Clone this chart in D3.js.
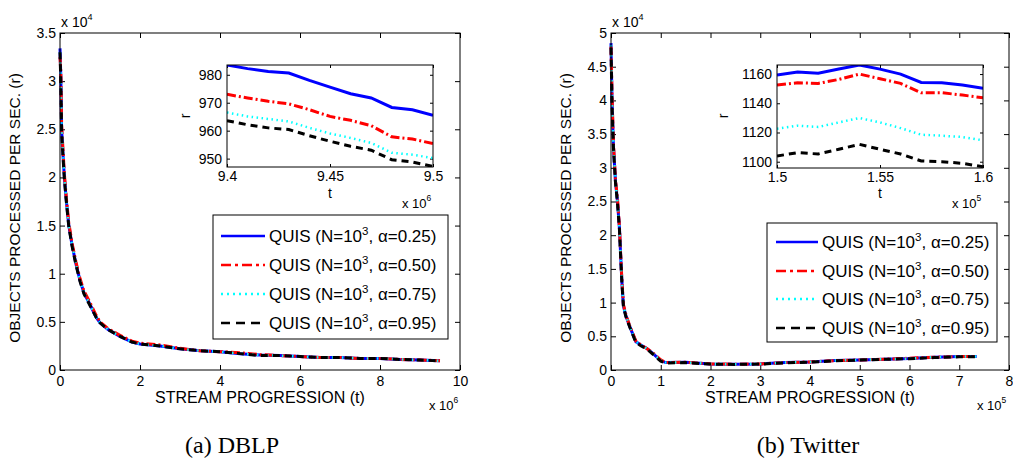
<!DOCTYPE html>
<html>
<head>
<meta charset="utf-8">
<script src="https://cdn.jsdelivr.net/npm/d3@7"></script>
<style>
  body { margin: 0; background: #fff; }
  text { font-family: "Liberation Sans", Arial, sans-serif; fill: #000; }
</style>
</head>
<body>
<script>
// ---- data ----
var seriesNames = ["0.25", "0.50", "0.75", "0.95"];

// DBLP, t in 1e6, r in 1e4
var dblpT     = [0, 0.02, 0.04, 0.08, 0.11, 0.16, 0.22, 0.3, 0.4, 0.5, 0.6, 0.75, 0.9, 1.0, 1.2, 1.5, 1.8, 2.0, 2.5, 3.0, 3.5, 4.0, 4.5, 5.0, 5.5, 6.0, 6.5, 7.0, 7.5, 8.0, 8.5, 9.0, 9.5];
var dblpBlue  = [3.34, 3.05, 2.5, 2.2, 2.0, 1.75, 1.5, 1.3, 1.1, 0.93, 0.8, 0.68, 0.55, 0.49, 0.42, 0.35, 0.29, 0.27, 0.25, 0.22, 0.2, 0.19, 0.17, 0.155, 0.15, 0.14, 0.13, 0.13, 0.12, 0.12, 0.11, 0.105, 0.0965];
var dblpRed   = [3.25, 3.1, 2.55, 2.25, 2.03, 1.78, 1.53, 1.32, 1.12, 0.95, 0.82, 0.7, 0.57, 0.5, 0.43, 0.36, 0.3, 0.28, 0.26, 0.225, 0.2, 0.19, 0.18, 0.16, 0.15, 0.14, 0.13, 0.13, 0.12, 0.12, 0.11, 0.105, 0.0955];
var dblpCyan  = [3.3, 3.02, 2.52, 2.21, 2.0, 1.75, 1.5, 1.3, 1.1, 0.93, 0.8, 0.68, 0.55, 0.49, 0.42, 0.35, 0.29, 0.27, 0.25, 0.22, 0.2, 0.19, 0.17, 0.155, 0.15, 0.14, 0.13, 0.13, 0.12, 0.12, 0.11, 0.104, 0.095];
var dblpBlack = [3.3, 3.0, 2.48, 2.18, 1.98, 1.74, 1.49, 1.29, 1.09, 0.92, 0.79, 0.67, 0.55, 0.49, 0.42, 0.35, 0.29, 0.27, 0.25, 0.22, 0.2, 0.19, 0.17, 0.15, 0.15, 0.14, 0.13, 0.13, 0.12, 0.12, 0.11, 0.104, 0.0947];

// DBLP inset, t in 1e6, r raw
var dblpInsetT     = [9.40, 9.41, 9.42, 9.43, 9.44, 9.45, 9.46, 9.47, 9.48, 9.49, 9.50];
var dblpInsetBlue  = [983.5, 982.2, 981.2, 980.6, 978.0, 975.6, 973.2, 971.7, 968.3, 967.5, 965.5];
var dblpInsetRed   = [973.0, 971.7, 970.5, 969.6, 967.5, 965.1, 963.7, 961.8, 957.8, 957.0, 955.4];
var dblpInsetCyan  = [966.5, 965.1, 964.2, 963.3, 961.0, 959.0, 957.4, 955.6, 952.1, 951.4, 950.2];
var dblpInsetBlack = [963.6, 962.1, 961.0, 960.4, 958.2, 956.2, 954.4, 953.0, 949.6, 948.8, 947.2];

// Twitter, t in 1e5, r in 1e4
var twT     = [0, 0.02, 0.05, 0.09, 0.13, 0.17, 0.2, 0.22, 0.25, 0.3, 0.38, 0.5, 0.6, 0.72, 0.85, 1.0, 1.1, 1.5, 2.0, 2.5, 3.0, 3.5, 4.0, 4.5, 5.0, 5.5, 6.0, 6.5, 7.0, 7.35];
var twBlue  = [4.85, 4.0, 3.3, 2.8, 2.5, 2.1, 1.6, 1.3, 0.95, 0.8, 0.64, 0.42, 0.37, 0.32, 0.24, 0.14, 0.11, 0.116, 0.09, 0.085, 0.09, 0.11, 0.12, 0.14, 0.15, 0.16, 0.17, 0.19, 0.2, 0.2];
var twRed   = [4.8, 4.1, 3.35, 2.82, 2.55, 2.12, 1.62, 1.32, 0.97, 0.82, 0.65, 0.43, 0.37, 0.32, 0.25, 0.15, 0.11, 0.115, 0.09, 0.085, 0.09, 0.11, 0.12, 0.14, 0.15, 0.16, 0.175, 0.19, 0.2, 0.2];
var twCyan  = [4.82, 4.0, 3.3, 2.8, 2.5, 2.1, 1.6, 1.3, 0.95, 0.8, 0.64, 0.42, 0.37, 0.32, 0.24, 0.14, 0.11, 0.112, 0.09, 0.085, 0.09, 0.11, 0.12, 0.14, 0.15, 0.16, 0.17, 0.19, 0.2, 0.2];
var twBlack = [4.78, 3.95, 3.28, 2.78, 2.48, 2.08, 1.58, 1.28, 0.94, 0.79, 0.63, 0.41, 0.36, 0.31, 0.23, 0.13, 0.105, 0.11, 0.088, 0.083, 0.088, 0.105, 0.118, 0.135, 0.148, 0.158, 0.168, 0.185, 0.195, 0.195];

// Twitter inset, t in 1e5, r raw
var twInsetT     = [1.50, 1.51, 1.52, 1.53, 1.54, 1.55, 1.56, 1.57, 1.58, 1.59, 1.60];
var twInsetBlue  = [1159.3, 1161.4, 1160.5, 1163.4, 1166.2, 1163.4, 1160.0, 1154.3, 1154.1, 1152.5, 1150.2];
var twInsetRed   = [1152.5, 1154.0, 1153.6, 1156.3, 1160.0, 1156.8, 1153.6, 1147.2, 1147.2, 1145.6, 1143.8];
var twInsetCyan  = [1122.6, 1124.7, 1123.8, 1126.9, 1129.9, 1126.9, 1123.0, 1118.5, 1117.8, 1116.9, 1114.6];
var twInsetBlack = [1103.9, 1106.2, 1105.3, 1108.5, 1111.9, 1108.5, 1105.3, 1100.5, 1100.0, 1098.9, 1096.6];

// ---- styles per series ----
var styles = [
  { color: "#0000ff", dash: null },
  { color: "#ff0000", dash: "9,3,2,3" },
  { color: "#00ffff", dash: "1.5,3.5" },
  { color: "#000000", dash: "7,5" }
];

var svg = d3.select("body").append("svg")
  .attr("width", 1013)
  .attr("height", 469);

svg.append("rect").attr("width", 1013).attr("height", 469).attr("fill", "#fff");

function fmt(d) { return String(+d.toFixed(2)); }

// draws one framed axes box with inner ticks on all four sides
function drawAxes(box, xDom, yDom, xTicks, yTicks, fs, pad) {
  var x = d3.scaleLinear().domain(xDom).range([box.x0, box.x1]);
  var y = d3.scaleLinear().domain(yDom).range([box.y1, box.y0]);
  var tl = box.tick;

  var gb = svg.append("g").attr("transform", "translate(0," + box.y1 + ")")
    .call(d3.axisBottom(x).tickValues(xTicks).tickSize(-tl).tickPadding(pad.x).tickFormat(fmt));
  var gt = svg.append("g").attr("transform", "translate(0," + box.y0 + ")")
    .call(d3.axisTop(x).tickValues(xTicks).tickSize(-tl).tickFormat(""));
  var gl = svg.append("g").attr("transform", "translate(" + box.x0 + ",0)")
    .call(d3.axisLeft(y).tickValues(yTicks).tickSize(-tl).tickPadding(pad.y).tickFormat(fmt));
  var gr = svg.append("g").attr("transform", "translate(" + box.x1 + ",0)")
    .call(d3.axisRight(y).tickValues(yTicks).tickSize(-tl).tickFormat(""));

  [gb, gt, gl, gr].forEach(function (g) {
    g.select(".domain").remove();
    g.selectAll("line").attr("stroke", "#000");
    g.selectAll("text").attr("font-size", fs).attr("font-family", null).attr("fill", "#000");
  });
  return { x: x, y: y };
}

function drawLines(sc, t, arrays, widths, clipId) {
  var line = d3.line().x(function (d) { return sc.x(d[0]); }).y(function (d) { return sc.y(d[1]); });
  var g = svg.append("g");
  if (clipId) g.attr("clip-path", "url(#" + clipId + ")");
  arrays.forEach(function (vals, i) {
    g.append("path")
      .datum(t.map(function (tt, k) { return [tt, vals[k]]; }))
      .attr("d", line)
      .attr("fill", "none")
      .attr("stroke", styles[i].color)
      .attr("stroke-width", widths[i])
      .attr("stroke-dasharray", styles[i].dash);
  });
}

function frame(box) {
  svg.append("rect")
    .attr("x", box.x0).attr("y", box.y0)
    .attr("width", box.x1 - box.x0).attr("height", box.y1 - box.y0)
    .attr("fill", "none").attr("stroke", "#000").attr("stroke-width", 1);
}

function powText(x, y, base, exp, fs) {
  var t = svg.append("text").attr("x", x).attr("y", y).attr("font-size", fs);
  t.append("tspan").text(base);
  t.append("tspan").attr("dy", -7).attr("font-size", fs * 0.65).text(exp);
}

function legend(lx, ly, w, h, rowY, x1, x2, tx) {
  svg.append("rect").attr("x", lx).attr("y", ly).attr("width", w).attr("height", h)
    .attr("fill", "#fff").attr("stroke", "#000").attr("stroke-width", 1);
  seriesNames.forEach(function (a, i) {
    var yy = ly + rowY[i];
    svg.append("line").attr("x1", x1).attr("x2", x2).attr("y1", yy).attr("y2", yy)
      .attr("stroke", styles[i].color).attr("stroke-width", 2.5)
      .attr("stroke-dasharray", i === 1 ? "10,4,3,4" : i === 2 ? "2,4" : i === 3 ? "9,6" : null);
    var t = svg.append("text").attr("x", tx).attr("y", yy + 6).attr("font-size", 17);
    t.append("tspan").text("QUIS (N=10");
    t.append("tspan").attr("dy", -7).attr("font-size", 11.5).text("3");
    t.append("tspan").attr("dy", 7).text(", \u03b1=" + a + ")");
  });
}

function panel(p) {
  var box = { x0: p.x0, x1: p.x1, y0: 33, y1: 370, tick: 5 };
  var sc = drawAxes(box, p.xDom, p.yDom, p.xTicks, p.yTicks, 14, { x: 6, y: 4 });
  drawLines(sc, p.t, p.series, [3, 3, 2.5, 3]);
  frame(box);

  // exponent labels
  powText(box.x0 + 1, 27, "x 10", p.yExp, 14);
  powText(p.xExpX, 410, "x 10", p.xExp, 13);

  // axis titles
  svg.append("text").attr("x", (box.x0 + box.x1) / 2).attr("y", 403)
    .attr("text-anchor", "middle").attr("font-size", 16).text("STREAM PROGRESSION (t)");
  svg.append("text")
    .attr("transform", "translate(" + p.yLabX + "," + 208 + ") rotate(-90)")
    .attr("text-anchor", "middle").attr("font-size", 15.5).text("OBJECTS PROCESSED PER SEC. (r)");

  // inset
  var ib = { x0: p.inset.x0, x1: p.inset.x1, y0: 65, y1: p.inset.y1, tick: 3 };
  svg.append("rect").attr("x", ib.x0).attr("y", ib.y0).attr("width", ib.x1 - ib.x0)
    .attr("height", ib.y1 - ib.y0).attr("fill", "#fff");
  var isc = drawAxes(ib, p.inset.xDom, p.inset.yDom, p.inset.xTicks, p.inset.yTicks, 14, { x: 4, y: 5 });
  svg.append("clipPath").attr("id", p.id).append("rect")
    .attr("x", ib.x0).attr("y", ib.y0).attr("width", ib.x1 - ib.x0).attr("height", ib.y1 - ib.y0);
  drawLines(isc, p.inset.t, p.inset.series, [3, 3, 2.5, 3], p.id);
  frame(ib);
  svg.append("text").attr("x", (ib.x0 + ib.x1) / 2).attr("y", 198)
    .attr("text-anchor", "middle").attr("font-size", 14).text("t");
  svg.append("text")
    .attr("transform", "translate(" + p.inset.rX + ",116) rotate(-90)")
    .attr("text-anchor", "middle").attr("font-size", 14).text("r");
  powText(ib.x1 - 31, 208, "x 10", p.xExp, 13);

  legend(p.leg.x, p.leg.y, p.leg.w, p.leg.h, p.leg.rows, p.leg.l1, p.leg.l2, p.leg.tx);

  svg.append("text").attr("x", p.capX).attr("y", 453)
    .attr("text-anchor", "middle").attr("font-size", 24)
    .style("font-family", "'Liberation Serif','Times New Roman',serif")
    .text(p.caption);
}

panel({
  id: "clipA", x0: 60, x1: 460,
  xDom: [0, 10], yDom: [0, 3.5],
  xTicks: [0, 2, 4, 6, 8, 10], yTicks: [0, 0.5, 1, 1.5, 2, 2.5, 3, 3.5],
  t: dblpT, series: [dblpBlue, dblpRed, dblpCyan, dblpBlack],
  yExp: "4", xExp: "6", xExpX: 429, yLabX: 20,
  inset: {
    x0: 227, x1: 433, y1: 167,
    xDom: [9.4, 9.5], yDom: [947, 983.5],
    xTicks: [9.4, 9.45, 9.5], yTicks: [950, 960, 970, 980],
    t: dblpInsetT, series: [dblpInsetBlue, dblpInsetRed, dblpInsetCyan, dblpInsetBlack],
    rX: 190
  },
  leg: { x: 213, y: 215, w: 235, h: 124, rows: [21, 50, 79, 108], l1: 221, l2: 265, tx: 269 },
  capX: 232, caption: "(a) DBLP"
});

panel({
  id: "clipB", x0: 611, x1: 1009,
  xDom: [0, 8], yDom: [0, 5],
  xTicks: [0, 1, 2, 3, 4, 5, 6, 7, 8], yTicks: [0, 0.5, 1, 1.5, 2, 2.5, 3, 3.5, 4, 4.5, 5],
  t: twT, series: [twBlue, twRed, twCyan, twBlack],
  yExp: "4", xExp: "5", xExpX: 977, yLabX: 571,
  inset: {
    x0: 777, x1: 983, y1: 168,
    xDom: [1.5, 1.6], yDom: [1095.7, 1166.2],
    xTicks: [1.5, 1.55, 1.6], yTicks: [1100, 1120, 1140, 1160],
    t: twInsetT, series: [twInsetBlue, twInsetRed, twInsetCyan, twInsetBlack],
    rX: 728
  },
  leg: { x: 767, y: 223, w: 230, h: 119, rows: [19, 48, 76, 105], l1: 776, l2: 818, tx: 822 },
  capX: 808, caption: "(b) Twitter"
});
</script>
</body>
</html>
